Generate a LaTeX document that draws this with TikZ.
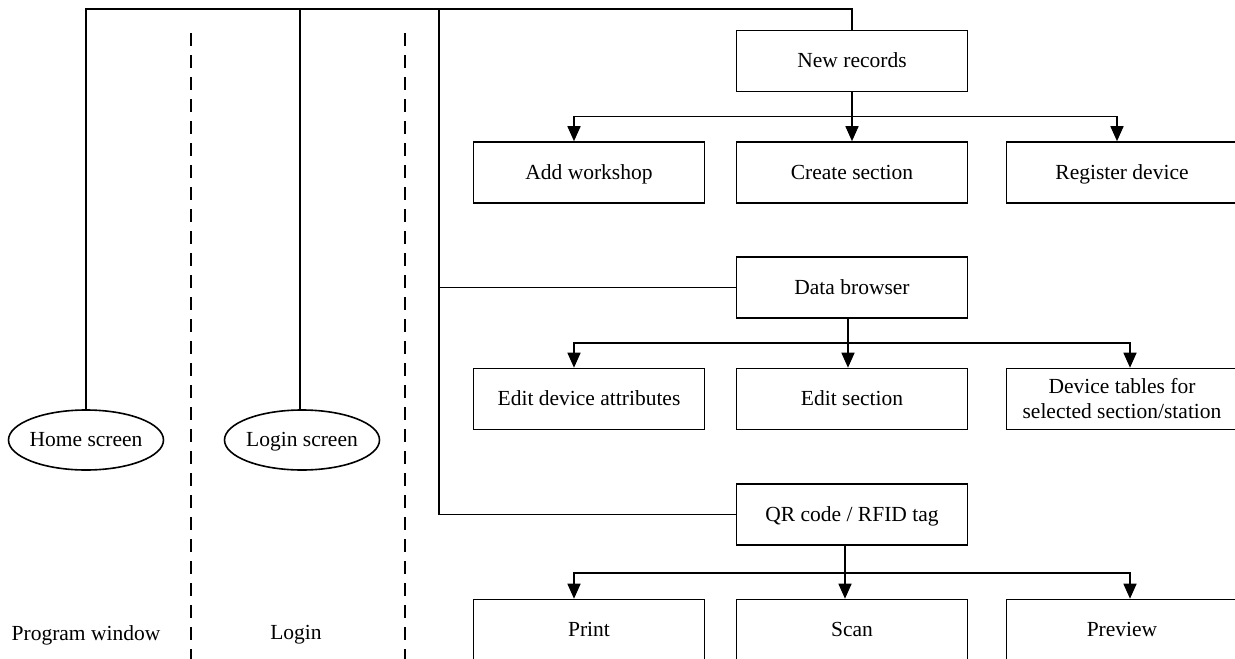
\documentclass[tikz,border=0pt]{standalone}
\usepackage{fontspec}
\setmainfont{Liberation Serif}
\usetikzlibrary{arrows.meta,shapes.geometric}

\begin{document}
\begin{tikzpicture}[x=1pt,y=1pt,line width=1.6pt,
  >={Triangle[length=15pt,width=13pt]},
  every node/.append style={font=\fontsize{21.5}{25}\selectfont},
  box/.style={draw,rectangle,minimum width=231pt,minimum height=61pt,align=center},
  onebox/.style={box,text height=13.5pt,text depth=0pt},
  screen/.style={draw,ellipse,minimum width=155pt,minimum height=60pt,inner xsep=-12pt,inner ysep=0pt,text height=13.5pt,text depth=0pt},
  lane/.style={dash pattern=on 13pt off 9pt,line width=1.3pt},
  node distance=115pt]

  \useasboundingbox (0,0) rectangle (1235,-659);
  \clip (0,0) rectangle (1235,-659);

  % new records
  \node[onebox] (nr) at (852,-61)                           {New records};
  \node[onebox] (cs) [below of=nr,node distance=111.5pt]   {Create section};
  \node[onebox] (aw) [left of=cs,node distance=263pt]      {Add workshop};
  \node[onebox] (rd) [right of=cs,node distance=270pt]     {Register device};

  % browser
  \node[onebox] (db) [below of=cs]                          {Data browser};
  \node[onebox] (es) [below of=db,node distance=111.5pt]   {Edit section};
  \node[onebox] (ea) [left of=es,node distance=263pt]      {Edit device attributes};
  \node[box]    (dt) [right of=es,node distance=270pt]     {Device tables for\\selected section/station};

  % tags
  \node[onebox] (qr) [below of=es,node distance=115.5pt]   {QR code / RFID tag};
  \node[onebox] (sc) [below of=qr,node distance=115.5pt]   {Scan};
  \node[onebox] (pr) [left of=sc,node distance=263pt]      {Print};
  \node[onebox] (pv) [right of=sc,node distance=270pt]     {Preview};

  % screens
  \node[screen] (home)  at (86,-440)                     {Home screen};
  \node[screen] (login) [right of=home,node distance=216pt] {Login screen};
  \node (prog)  [below of=home,node distance=195pt]      {Program window};
  \node (logl)  [below of=login,node distance=195pt,xshift=-6pt] {Login};

  % lanes
  \draw[lane] (191,-33) -- (191,-670);
  \draw[lane] (405,-33) -- (405,-670);

  % trunk
  \coordinate (t) at ([yshift=20.5pt]nr.north);
  \coordinate (b) at (439,-10);
  \draw (home.north) |- (t) -- (nr.north);
  \draw ([xshift=-2pt]login.north) -- ([xshift=-2pt]login.north |- t);
  \draw (b) |- (qr.west);
  \draw (b |- db.west) -- (db.west);

  % branches
  \coordinate (j1) at ([yshift=-24pt]nr.south);
  \draw[->] (nr.south) -- (cs.north);
  \draw[->] (j1) -| ([xshift=-15pt]aw.north);
  \draw[->] (j1) -| ([xshift=-5pt]rd.north);

  \coordinate (j2) at ([xshift=-4pt,yshift=-24pt]db.south);
  \draw[->] ([xshift=-4pt]db.south) -- ([xshift=-4pt]es.north);
  \draw[->] (j2) -| ([xshift=-15pt]ea.north);
  \draw[->] (j2) -| ([xshift=8pt]dt.north);

  \coordinate (j3) at ([xshift=-7pt,yshift=-27pt]qr.south);
  \draw[->] ([xshift=-7pt]qr.south) -- ([xshift=-7pt]sc.north);
  \draw[->] (j3) -| ([xshift=-15pt]pr.north);
  \draw[->] (j3) -| ([xshift=8pt]pv.north);
\end{tikzpicture}
\end{document}
